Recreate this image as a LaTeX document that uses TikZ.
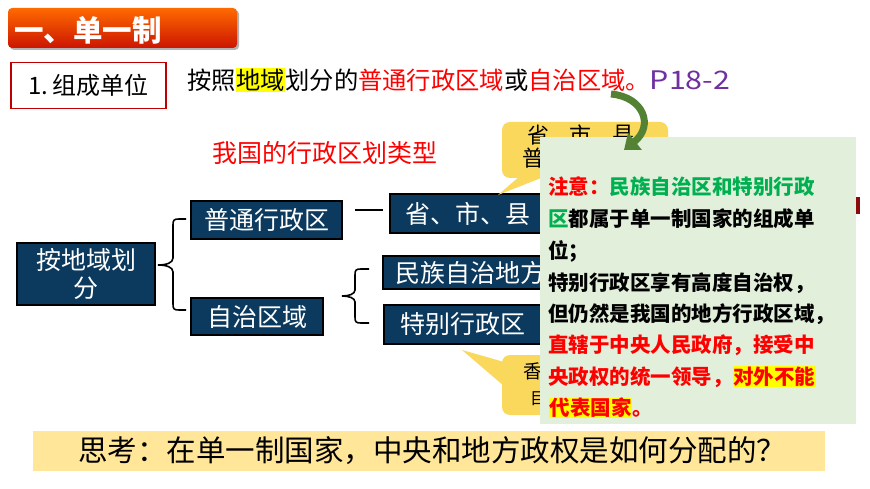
\documentclass[tikz,border=0pt]{standalone}
\usepackage{fontspec}
\setmainfont{Noto Sans CJK SC}
\usetikzlibrary{arrows.meta,calc}
\definecolor{boxblue}{HTML}{0B3A5E}
\definecolor{bannertop}{HTML}{FF6A00}
\definecolor{bannerbot}{HTML}{CC1500}
\definecolor{framered}{HTML}{C00000}
\definecolor{hlyellow}{HTML}{FFFF00}
\definecolor{txtred}{HTML}{FF0000}
\definecolor{txtpurple}{HTML}{7030A0}
\definecolor{txtgreen}{HTML}{00B050}
\definecolor{bubble}{HTML}{F9D85C}
\definecolor{notegreen}{HTML}{E2EFDA}
\definecolor{arrowgreen}{HTML}{548235}
\definecolor{baryellow}{HTML}{FFE699}
\definecolor{markred}{HTML}{8B0A0A}
\newcommand{\fsz}[1]{\fontsize{#1}{#1}\selectfont}
\newcommand{\hly}[1]{{\setlength{\fboxsep}{0.6pt}\colorbox{hlyellow}{#1}}}
\begin{document}
\begin{tikzpicture}[x=1pt,y=-1pt,
  bluebox/.style={draw=black, line width=1.6pt, fill=boxblue, text=white,
    anchor=north west, inner sep=0pt, outer sep=0pt, font=\fsz{25}},
  plain/.style={inner sep=0pt, outer sep=0pt, anchor=west},
  notetxt/.style={plain, font=\fsz{20.5}\bfseries},
  bracepath/.style={draw=black, line width=1.6pt},
  bubblefill/.style={fill=bubble}
]
\useasboundingbox (0,0) rectangle (870,489);
\fill[white] (0,0) rectangle (870,489);

% banner
\fill[black!30, rounded corners=4] (10,10) rectangle (239,50);
\shade[top color=bannertop, bottom color=bannerbot, rounded corners=4] (8,8) rectangle (237,48);
\node[plain, text=white, font=\fsz{29.5}\bfseries] (title) at (14,30) {一、单一制};

% 1. 组成单位
\node[draw=framered, line width=1.5pt, anchor=north west, minimum width=155, minimum height=46,
  inner sep=0pt, font=\fsz{24}] (unit) at (10,62) {1.\,组成单位};

% main sentence
\node[plain, font=\fsz{24.3}] (sent) at (187,80)
  {按照\hly{地域}划分的\textcolor{txtred}{普通行政区域}或\textcolor{txtred}{自治区域。}\textcolor{txtpurple}{\scalebox{1.25}[1.05]{P18-2}}};

% subtitle
\node[plain, text=txtred, font=\fsz{25}] (sub) at (212,153) {我国的行政区划类型};

% blue boxes
\node[bluebox, minimum width=138, minimum height=62, align=center, font=\fontsize{25}{28}\selectfont] (root) at (17,243) {按地域划\\分};
\node[bluebox, minimum width=151, minimum height=38] (pt) at (191,201) {普通行政区};
\node[bluebox, minimum width=132, minimum height=37] (zz) at (191,298) {自治区域};
\node[bluebox, minimum width=155, minimum height=39] (ssx) at (390,194) {省、市、县};
\node[bluebox, minimum width=174, minimum height=33] (mz) at (383,256) {民族自治地方};
\node[bluebox, minimum width=157, minimum height=39] (tb) at (384,305) {特别行政区};

% dash between 普通行政区 and 省市县
\coordinate (d1) at (355,210);
\coordinate (d2) at (383,210);
\draw[line width=1.6pt] (d1) -- (d2);

% brace 1
\draw[bracepath] (186,219) -- (179,219) .. controls (174,219) and (173,220) .. (173,225)
  -- (173,258) .. controls (173,263) and (166,265) .. (158,265)
  .. controls (166,265) and (173,267) .. (173,272)
  -- (173,304) .. controls (173,309) and (174,310) .. (179,310) -- (186,310);
% brace 2
\draw[bracepath] (369,269) -- (361,269) .. controls (356,269) and (355,270) .. (355,275)
  -- (355,290) .. controls (355,294) and (349,296) .. (342,296)
  .. controls (349,296) and (355,298) .. (355,302)
  -- (355,317) .. controls (355,322) and (356,323) .. (361,323) -- (369,323);

% upper bubble
\fill[bubblefill, rounded corners=8] (502,122) rectangle (668,178);
\fill[bubblefill] (520,176) -- (498,195) -- (546,176) -- cycle;
\node[plain, font=\fsz{22}] (bs1) at (527,135) {省};
\node[plain, font=\fsz{22}] (bs2) at (569,135) {市};
\node[plain, font=\fsz{22}] (bs3) at (612,135) {县};
\node[plain, font=\fsz{22}] (bs4) at (522,158) {普};

% lower bubble
\fill[bubblefill, rounded corners=8] (502,355) rectangle (600,415);
\fill[bubblefill] (504,362) -- (462,350) -- (504,386) -- cycle;
\node[plain, font=\fsz{19}] (bx1) at (523,371) {香};
\node[plain, font=\fsz{16.5}] (bx2) at (530,399) {目};

% small dark red mark
\fill[markred] (855,197) rectangle (860,214);

% note box
\node[fill=notegreen, anchor=north west, minimum width=316, minimum height=287, inner sep=0pt] (note) at (540,137) {};
\node[notetxt] (n1) at (548,187) {\textcolor{txtred}{注意：}\textcolor{txtgreen}{民族自治区和特别行政}};
\node[notetxt] (n2) at (548,219) {\textcolor{txtgreen}{区}都属于单一制国家的组成单};
\node[notetxt] (n3) at (548,251) {位；};
\node[notetxt] (n4) at (548,283) {特别行政区享有高度自治权，};
\node[notetxt] (n5) at (548,314) {但仍然是我国的地方行政区域，};
\node[notetxt, text=txtred] (n6) at (548,345) {直辖于中央人民政府，接受中};
\node[notetxt, text=txtred] (n7) at (548,377) {央政权的统一领导，\hly{对外不能}};
\node[notetxt, text=txtred] (n8) at (549,408) {\hly{代表国家}。};

% green curved arrow
\draw[arrowgreen, line width=7pt, -{Triangle[width=21pt,length=14pt]}]
  (611,94) .. controls (644,97) and (654,126) .. (624,150);

% bottom bar
\node[fill=baryellow, anchor=north west, minimum width=792, minimum height=40, inner sep=0pt] (bar) at (33,431) {};
\node[inner sep=0pt, font=\fsz{29.5}] (q) at (432,451) {思考：在单一制国家，中央和地方政权是如何分配的？};
\end{tikzpicture}
\end{document}
